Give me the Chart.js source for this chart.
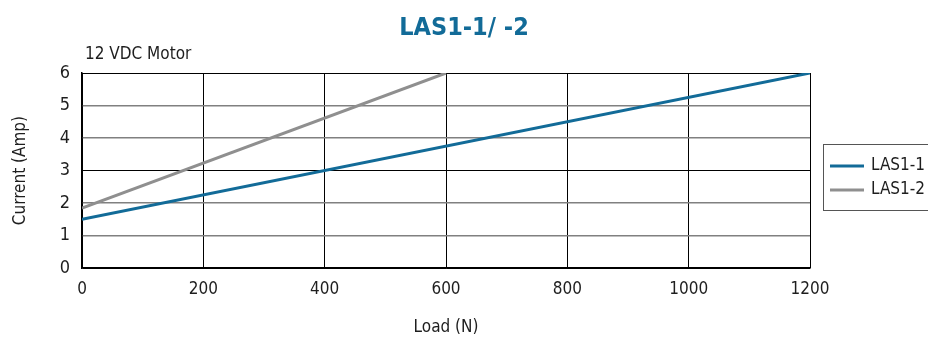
<!DOCTYPE html>
<html>
<head>
<meta charset="utf-8">
<script src="https://cdn.jsdelivr.net/npm/chart.js@4"></script>
<style>
  html, body { margin: 0; padding: 0; background: #fff; }
  #wrap { width: 928px; height: 338px; }
</style>
</head>
<body>
<div id="wrap"><canvas id="myChart"></canvas></div>
<script>
// values
const loadLas11 = [0, 1200];
const currentLas11 = [1.5, 6];
const loadLas12 = [0, 600];
const currentLas12 = [1.85, 6];
const seriesNames = ['LAS1-1', 'LAS1-2'];
const chartTitle = 'LAS1-1/ -2';
const motorLabel = '12 VDC Motor';

const FONT = "'Liberation Sans Narrow', 'DejaVu Sans Condensed', 'Roboto', sans-serif";
const blue = '#126b98';
const gray = '#8f8f8f';
const txt = '#1e1e1e';

function toPoints(xs, ys) {
    return xs.map((x, i) => ({ x: x, y: ys[i] }));
}

// legend box + "12 VDC Motor" label
const extras = {
    id: 'extras',
    afterDraw(chart) {
        const c = chart.ctx;
        const a = chart.chartArea;
        c.save();
        c.font = '17px ' + FONT;
        c.fillStyle = txt;
        c.textBaseline = 'middle';
        c.textAlign = 'left';
        c.fillText(motorLabel, a.left + 3, a.top - 18);

        const bx = a.right + 13;
        const by = a.top + 71;
        c.strokeStyle = '#555';
        c.lineWidth = 1;
        c.strokeRect(bx + 0.5, by + 0.5, 120, 66);

        chart.data.datasets.forEach((ds, i) => {
            const y = by + 22 + i * 24;
            c.strokeStyle = ds.borderColor;
            c.lineWidth = 3;
            c.beginPath();
            c.moveTo(bx + 7, y);
            c.lineTo(bx + 41, y);
            c.stroke();
            c.fillStyle = txt;
            c.fillText(ds.label, bx + 48, y);
        });
        c.restore();
    }
};

const cfg = {
    type: 'line',
    data: {
        datasets: [{
            label: seriesNames[0],
            data: toPoints(loadLas11, currentLas11),
            borderColor: blue,
            borderWidth: 3,
            pointRadius: 0,
            tension: 0
        }, {
            label: seriesNames[1],
            data: toPoints(loadLas12, currentLas12),
            borderColor: gray,
            borderWidth: 3,
            pointRadius: 0,
            tension: 0
        }]
    },
    options: {
        responsive: true,
        maintainAspectRatio: false,
        animation: false,
        layout: { padding: 0 },
        plugins: {
            legend: { display: false },
            tooltip: { enabled: false },
            title: {
                display: true,
                text: chartTitle,
                color: blue,
                font: { family: FONT, size: 25, weight: 'bold' },
                padding: { top: 13, bottom: 30 }
            }
        },
        scales: {
            x: {
                type: 'linear',
                min: 0,
                max: 1200,
                ticks: {
                    stepSize: 200,
                    color: txt,
                    padding: 11,
                    font: { family: FONT, size: 17 },
                    callback: function (value) { return String(value); }
                },
                grid: { color: '#000', lineWidth: 1, drawTicks: false },
                border: { color: '#000', width: 1.5 },
                title: {
                    display: true,
                    text: 'Load (N)',
                    color: txt,
                    font: { family: FONT, size: 17 },
                    padding: { top: 7, bottom: 0 }
                }
            },
            y: {
                min: 0,
                max: 6,
                ticks: {
                    stepSize: 1,
                    color: txt,
                    padding: 12,
                    font: { family: FONT, size: 18 }
                },
                grid: {
                    drawTicks: false,
                    color: (ctx) => (ctx.tick && ctx.tick.value % 3 === 0) ? '#000' : '#808080',
                    lineWidth: (ctx) => (ctx.tick && ctx.tick.value % 3 === 0) ? 1 : 1.5
                },
                border: { color: '#000', width: 1.5 },
                title: {
                    display: true,
                    text: 'Current (Amp)',
                    color: txt,
                    font: { family: FONT, size: 17 },
                    padding: { top: 10, bottom: 0 }
                },
                afterFit: function (scale) { scale.width = 82; }
            },
            spacer: {
                type: 'linear',
                position: 'right',
                min: 0,
                max: 1,
                ticks: { display: false },
                grid: { display: false },
                border: { display: false },
                afterFit: function (scale) { scale.width = 118; }
            }
        }
    },
    plugins: [extras]
};

const ctx = document.getElementById('myChart');
let myChart = new Chart(ctx, cfg);
</script>
</body>
</html>
